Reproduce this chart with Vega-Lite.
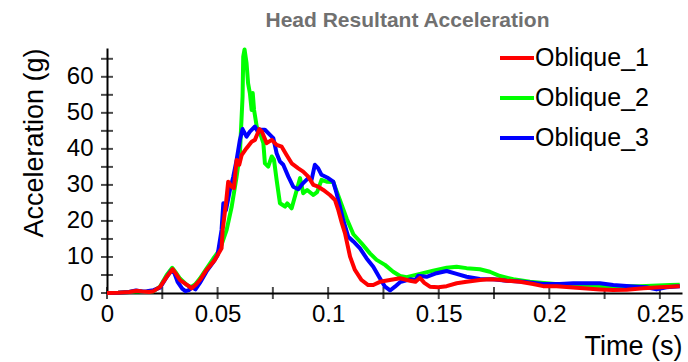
{
  "$schema": "https://vega.github.io/schema/vega-lite/v6.json",
  "autosize": "none",
  "width": 575,
  "height": 245,
  "padding": {"left": 107, "top": 48, "right": 6, "bottom": 69},
  "background": "white",
  "title": {"text": "Head Resultant Acceleration", "fontSize": 21, "fontWeight": "bold", "color": "#707070", "font": "Liberation Sans", "anchor": "middle", "dx": 13, "offset": 8},
  "config": {"view": {"stroke": null}, "font": "Liberation Sans"},
  "datasets": {
    "curves": [
      {"t":0,"g":0,"s":"Oblique_1"},{"t":0.005,"g":0.1,"s":"Oblique_1"},{"t":0.01,"g":0.3,"s":"Oblique_1"},{"t":0.0135,"g":0.6,"s":"Oblique_1"},{"t":0.016,"g":0.4,"s":"Oblique_1"},{"t":0.019,"g":0.3,"s":"Oblique_1"},{"t":0.021,"g":0.5,"s":"Oblique_1"},{"t":0.024,"g":1.7,"s":"Oblique_1"},{"t":0.027,"g":4.5,"s":"Oblique_1"},{"t":0.0297,"g":6.6,"s":"Oblique_1"},{"t":0.031,"g":5.5,"s":"Oblique_1"},{"t":0.033,"g":3.6,"s":"Oblique_1"},{"t":0.0363,"g":2.2,"s":"Oblique_1"},{"t":0.0383,"g":1.3,"s":"Oblique_1"},{"t":0.04,"g":2.2,"s":"Oblique_1"},{"t":0.042,"g":3.6,"s":"Oblique_1"},{"t":0.045,"g":6.4,"s":"Oblique_1"},{"t":0.0488,"g":9.2,"s":"Oblique_1"},{"t":0.0505,"g":11,"s":"Oblique_1"},{"t":0.0518,"g":12.4,"s":"Oblique_1"},{"t":0.0523,"g":17.5,"s":"Oblique_1"},{"t":0.0538,"g":24.9,"s":"Oblique_1"},{"t":0.0548,"g":30.9,"s":"Oblique_1"},{"t":0.0564,"g":29.5,"s":"Oblique_1"},{"t":0.0574,"g":29.1,"s":"Oblique_1"},{"t":0.0586,"g":36.9,"s":"Oblique_1"},{"t":0.0598,"g":35.6,"s":"Oblique_1"},{"t":0.0609,"g":38.3,"s":"Oblique_1"},{"t":0.0631,"g":40.2,"s":"Oblique_1"},{"t":0.0654,"g":42,"s":"Oblique_1"},{"t":0.0669,"g":42.5,"s":"Oblique_1"},{"t":0.0689,"g":45.5,"s":"Oblique_1"},{"t":0.07,"g":44.8,"s":"Oblique_1"},{"t":0.0722,"g":41.6,"s":"Oblique_1"},{"t":0.0745,"g":42.5,"s":"Oblique_1"},{"t":0.0767,"g":41.1,"s":"Oblique_1"},{"t":0.079,"g":40.6,"s":"Oblique_1"},{"t":0.0812,"g":38.3,"s":"Oblique_1"},{"t":0.0835,"g":36,"s":"Oblique_1"},{"t":0.0865,"g":34.6,"s":"Oblique_1"},{"t":0.0887,"g":33.7,"s":"Oblique_1"},{"t":0.091,"g":32.3,"s":"Oblique_1"},{"t":0.0933,"g":30,"s":"Oblique_1"},{"t":0.0955,"g":29.5,"s":"Oblique_1"},{"t":0.0978,"g":28.6,"s":"Oblique_1"},{"t":0.1008,"g":27.2,"s":"Oblique_1"},{"t":0.1031,"g":25.8,"s":"Oblique_1"},{"t":0.1046,"g":23,"s":"Oblique_1"},{"t":0.1062,"g":19.4,"s":"Oblique_1"},{"t":0.1076,"g":16.6,"s":"Oblique_1"},{"t":0.1099,"g":10.1,"s":"Oblique_1"},{"t":0.1121,"g":6.4,"s":"Oblique_1"},{"t":0.1151,"g":3.6,"s":"Oblique_1"},{"t":0.1181,"g":2.2,"s":"Oblique_1"},{"t":0.1204,"g":2.2,"s":"Oblique_1"},{"t":0.1234,"g":3.1,"s":"Oblique_1"},{"t":0.1279,"g":3.6,"s":"Oblique_1"},{"t":0.1325,"g":4.1,"s":"Oblique_1"},{"t":0.137,"g":3.4,"s":"Oblique_1"},{"t":0.1395,"g":3.1,"s":"Oblique_1"},{"t":0.1415,"g":4.2,"s":"Oblique_1"},{"t":0.1435,"g":2.8,"s":"Oblique_1"},{"t":0.146,"g":1.75,"s":"Oblique_1"},{"t":0.1498,"g":1.6,"s":"Oblique_1"},{"t":0.1536,"g":1.9,"s":"Oblique_1"},{"t":0.1581,"g":2.7,"s":"Oblique_1"},{"t":0.1626,"g":3.1,"s":"Oblique_1"},{"t":0.1686,"g":3.6,"s":"Oblique_1"},{"t":0.1731,"g":3.8,"s":"Oblique_1"},{"t":0.1777,"g":3.7,"s":"Oblique_1"},{"t":0.1807,"g":3.4,"s":"Oblique_1"},{"t":0.1867,"g":3.1,"s":"Oblique_1"},{"t":0.1927,"g":2.5,"s":"Oblique_1"},{"t":0.1972,"g":1.9,"s":"Oblique_1"},{"t":0.2033,"g":1.9,"s":"Oblique_1"},{"t":0.2093,"g":1.6,"s":"Oblique_1"},{"t":0.2153,"g":1.3,"s":"Oblique_1"},{"t":0.2229,"g":1,"s":"Oblique_1"},{"t":0.2289,"g":0.8,"s":"Oblique_1"},{"t":0.235,"g":0.9,"s":"Oblique_1"},{"t":0.2425,"g":1.3,"s":"Oblique_1"},{"t":0.25,"g":1.6,"s":"Oblique_1"},{"t":0.259,"g":1.9,"s":"Oblique_1"},

      {"t":0,"g":0,"s":"Oblique_2"},{"t":0.005,"g":0.1,"s":"Oblique_2"},{"t":0.01,"g":0.3,"s":"Oblique_2"},{"t":0.0135,"g":0.5,"s":"Oblique_2"},{"t":0.017,"g":0.3,"s":"Oblique_2"},{"t":0.021,"g":0.5,"s":"Oblique_2"},{"t":0.024,"g":1.8,"s":"Oblique_2"},{"t":0.027,"g":5,"s":"Oblique_2"},{"t":0.0295,"g":7,"s":"Oblique_2"},{"t":0.031,"g":5.8,"s":"Oblique_2"},{"t":0.033,"g":4,"s":"Oblique_2"},{"t":0.036,"g":2.3,"s":"Oblique_2"},{"t":0.038,"g":1.6,"s":"Oblique_2"},{"t":0.04,"g":2.5,"s":"Oblique_2"},{"t":0.042,"g":4,"s":"Oblique_2"},{"t":0.045,"g":6.8,"s":"Oblique_2"},{"t":0.048,"g":9.5,"s":"Oblique_2"},{"t":0.051,"g":12,"s":"Oblique_2"},{"t":0.0541,"g":17.5,"s":"Oblique_2"},{"t":0.0564,"g":24,"s":"Oblique_2"},{"t":0.0586,"g":32.3,"s":"Oblique_2"},{"t":0.0601,"g":38.8,"s":"Oblique_2"},{"t":0.0613,"g":54.5,"s":"Oblique_2"},{"t":0.0616,"g":65.6,"s":"Oblique_2"},{"t":0.0622,"g":67.6,"s":"Oblique_2"},{"t":0.0631,"g":63.8,"s":"Oblique_2"},{"t":0.0638,"g":58.2,"s":"Oblique_2"},{"t":0.0646,"g":55.5,"s":"Oblique_2"},{"t":0.0654,"g":50.8,"s":"Oblique_2"},{"t":0.0659,"g":55.5,"s":"Oblique_2"},{"t":0.0665,"g":50.8,"s":"Oblique_2"},{"t":0.0677,"g":46.2,"s":"Oblique_2"},{"t":0.0692,"g":44.4,"s":"Oblique_2"},{"t":0.0707,"g":41.6,"s":"Oblique_2"},{"t":0.0714,"g":36,"s":"Oblique_2"},{"t":0.0729,"g":35.1,"s":"Oblique_2"},{"t":0.0745,"g":37.9,"s":"Oblique_2"},{"t":0.0755,"g":37,"s":"Oblique_2"},{"t":0.0767,"g":31.4,"s":"Oblique_2"},{"t":0.0782,"g":24.9,"s":"Oblique_2"},{"t":0.0805,"g":24,"s":"Oblique_2"},{"t":0.0815,"g":24.9,"s":"Oblique_2"},{"t":0.0835,"g":23.5,"s":"Oblique_2"},{"t":0.0858,"g":28.6,"s":"Oblique_2"},{"t":0.0873,"g":31.9,"s":"Oblique_2"},{"t":0.0887,"g":27.7,"s":"Oblique_2"},{"t":0.0905,"g":28.6,"s":"Oblique_2"},{"t":0.0933,"g":27.2,"s":"Oblique_2"},{"t":0.095,"g":28,"s":"Oblique_2"},{"t":0.097,"g":31.4,"s":"Oblique_2"},{"t":0.0993,"g":30.9,"s":"Oblique_2"},{"t":0.1023,"g":30.8,"s":"Oblique_2"},{"t":0.1053,"g":25.8,"s":"Oblique_2"},{"t":0.1084,"g":20.6,"s":"Oblique_2"},{"t":0.1114,"g":16.3,"s":"Oblique_2"},{"t":0.1151,"g":13.8,"s":"Oblique_2"},{"t":0.1189,"g":11,"s":"Oblique_2"},{"t":0.1219,"g":9.2,"s":"Oblique_2"},{"t":0.1257,"g":7.8,"s":"Oblique_2"},{"t":0.1294,"g":5.9,"s":"Oblique_2"},{"t":0.1325,"g":4.7,"s":"Oblique_2"},{"t":0.1355,"g":4.4,"s":"Oblique_2"},{"t":0.1415,"g":5.3,"s":"Oblique_2"},{"t":0.1475,"g":6.2,"s":"Oblique_2"},{"t":0.1536,"g":7,"s":"Oblique_2"},{"t":0.1581,"g":7.3,"s":"Oblique_2"},{"t":0.1626,"g":6.9,"s":"Oblique_2"},{"t":0.1686,"g":6.6,"s":"Oblique_2"},{"t":0.1731,"g":5.9,"s":"Oblique_2"},{"t":0.1777,"g":4.7,"s":"Oblique_2"},{"t":0.1837,"g":3.8,"s":"Oblique_2"},{"t":0.1912,"g":3.1,"s":"Oblique_2"},{"t":0.1988,"g":2.7,"s":"Oblique_2"},{"t":0.2078,"g":2.2,"s":"Oblique_2"},{"t":0.2169,"g":1.9,"s":"Oblique_2"},{"t":0.2289,"g":1.9,"s":"Oblique_2"},{"t":0.241,"g":1.9,"s":"Oblique_2"},{"t":0.2545,"g":2.2,"s":"Oblique_2"},{"t":0.259,"g":2.3,"s":"Oblique_2"},

      {"t":0,"g":0,"s":"Oblique_3"},{"t":0.005,"g":0.1,"s":"Oblique_3"},{"t":0.01,"g":0.3,"s":"Oblique_3"},{"t":0.013,"g":0.7,"s":"Oblique_3"},{"t":0.016,"g":0.4,"s":"Oblique_3"},{"t":0.018,"g":0.5,"s":"Oblique_3"},{"t":0.021,"g":0.8,"s":"Oblique_3"},{"t":0.024,"g":1.5,"s":"Oblique_3"},{"t":0.0265,"g":4,"s":"Oblique_3"},{"t":0.029,"g":6.2,"s":"Oblique_3"},{"t":0.0305,"g":5.5,"s":"Oblique_3"},{"t":0.032,"g":3,"s":"Oblique_3"},{"t":0.034,"g":1.2,"s":"Oblique_3"},{"t":0.0355,"g":0.5,"s":"Oblique_3"},{"t":0.037,"g":0.8,"s":"Oblique_3"},{"t":0.0385,"g":1.6,"s":"Oblique_3"},{"t":0.04,"g":1,"s":"Oblique_3"},{"t":0.042,"g":2.8,"s":"Oblique_3"},{"t":0.045,"g":6,"s":"Oblique_3"},{"t":0.048,"g":8.5,"s":"Oblique_3"},{"t":0.05,"g":10.5,"s":"Oblique_3"},{"t":0.0518,"g":17.5,"s":"Oblique_3"},{"t":0.0526,"g":24.9,"s":"Oblique_3"},{"t":0.0538,"g":23,"s":"Oblique_3"},{"t":0.0556,"g":28.6,"s":"Oblique_3"},{"t":0.0571,"g":32.3,"s":"Oblique_3"},{"t":0.0586,"g":36.9,"s":"Oblique_3"},{"t":0.0601,"g":42.5,"s":"Oblique_3"},{"t":0.0613,"g":45.5,"s":"Oblique_3"},{"t":0.0631,"g":43.4,"s":"Oblique_3"},{"t":0.0646,"g":44.8,"s":"Oblique_3"},{"t":0.0669,"g":46.2,"s":"Oblique_3"},{"t":0.0684,"g":44.5,"s":"Oblique_3"},{"t":0.0692,"g":45.3,"s":"Oblique_3"},{"t":0.0714,"g":45.3,"s":"Oblique_3"},{"t":0.0737,"g":43.9,"s":"Oblique_3"},{"t":0.0752,"g":43,"s":"Oblique_3"},{"t":0.0767,"g":38.8,"s":"Oblique_3"},{"t":0.0782,"g":36.5,"s":"Oblique_3"},{"t":0.0797,"g":35.6,"s":"Oblique_3"},{"t":0.082,"g":32.3,"s":"Oblique_3"},{"t":0.0842,"g":29.5,"s":"Oblique_3"},{"t":0.0865,"g":28.8,"s":"Oblique_3"},{"t":0.0887,"g":30.5,"s":"Oblique_3"},{"t":0.091,"g":31.9,"s":"Oblique_3"},{"t":0.0925,"g":31.4,"s":"Oblique_3"},{"t":0.094,"g":35.6,"s":"Oblique_3"},{"t":0.0955,"g":34.6,"s":"Oblique_3"},{"t":0.097,"g":32.8,"s":"Oblique_3"},{"t":0.1,"g":31.9,"s":"Oblique_3"},{"t":0.1023,"g":30.9,"s":"Oblique_3"},{"t":0.1038,"g":27.7,"s":"Oblique_3"},{"t":0.1053,"g":24,"s":"Oblique_3"},{"t":0.1068,"g":20.3,"s":"Oblique_3"},{"t":0.1091,"g":15.6,"s":"Oblique_3"},{"t":0.1114,"g":14.3,"s":"Oblique_3"},{"t":0.1144,"g":12.4,"s":"Oblique_3"},{"t":0.1174,"g":9.6,"s":"Oblique_3"},{"t":0.1204,"g":7.3,"s":"Oblique_3"},{"t":0.1234,"g":4.1,"s":"Oblique_3"},{"t":0.1257,"g":1.75,"s":"Oblique_3"},{"t":0.128,"g":0.7,"s":"Oblique_3"},{"t":0.1302,"g":1.75,"s":"Oblique_3"},{"t":0.1325,"g":3,"s":"Oblique_3"},{"t":0.137,"g":3.8,"s":"Oblique_3"},{"t":0.1395,"g":3.6,"s":"Oblique_3"},{"t":0.1407,"g":4.8,"s":"Oblique_3"},{"t":0.1445,"g":4.5,"s":"Oblique_3"},{"t":0.149,"g":5.5,"s":"Oblique_3"},{"t":0.1536,"g":6.1,"s":"Oblique_3"},{"t":0.1581,"g":5.3,"s":"Oblique_3"},{"t":0.1626,"g":4.5,"s":"Oblique_3"},{"t":0.1686,"g":3.9,"s":"Oblique_3"},{"t":0.1746,"g":3.8,"s":"Oblique_3"},{"t":0.1807,"g":3.4,"s":"Oblique_3"},{"t":0.1882,"g":3.1,"s":"Oblique_3"},{"t":0.1972,"g":2.5,"s":"Oblique_3"},{"t":0.2048,"g":2.5,"s":"Oblique_3"},{"t":0.2108,"g":2.7,"s":"Oblique_3"},{"t":0.2229,"g":2.7,"s":"Oblique_3"},{"t":0.2289,"g":2.2,"s":"Oblique_3"},{"t":0.2364,"g":1.9,"s":"Oblique_3"},{"t":0.244,"g":1.6,"s":"Oblique_3"},{"t":0.2485,"g":1,"s":"Oblique_3"},{"t":0.253,"g":1.6,"s":"Oblique_3"},{"t":0.259,"g":1.9,"s":"Oblique_3"}
    ],
    "xticks": [{"v":0},{"v":0.025},{"v":0.05},{"v":0.075},{"v":0.1},{"v":0.125},{"v":0.15},{"v":0.175},{"v":0.2},{"v":0.225},{"v":0.25}],
    "yticks": [{"v":0},{"v":5},{"v":10},{"v":15},{"v":20},{"v":25},{"v":30},{"v":35},{"v":40},{"v":45},{"v":50},{"v":55},{"v":60},{"v":65}]
  },
  "encoding": {
    "x": {"type": "quantitative", "scale": {"domain": [0, 0.26], "nice": false, "zero": false},
      "axis": {"title": "Time (s)", "values": [0, 0.05, 0.1, 0.15, 0.2, 0.25], "format": "~g", "ticks": false, "tickSize": 0, "grid": false,
        "domainColor": "black", "domainWidth": 2, "labelFontSize": 24, "labelColor": "black", "labelPadding": 9, "labelFont": "Liberation Sans",
        "titleFontSize": 27, "titleFontWeight": "normal", "titleColor": "black", "titleAnchor": "end", "titlePadding": 7, "titleFont": "Liberation Sans", "labelFlush": false}},
    "y": {"type": "quantitative", "scale": {"domain": [0, 68], "nice": false},
      "axis": {"title": "Acceleration (g)", "values": [0, 10, 20, 30, 40, 50, 60], "ticks": false, "tickSize": 0, "grid": false,
        "domainColor": "black", "domainWidth": 2, "labelFontSize": 24, "labelColor": "black", "labelPadding": 14, "labelFont": "Liberation Sans",
        "titleFontSize": 27, "titleFontWeight": "normal", "titleColor": "black", "titleAnchor": "end", "titlePadding": 18, "titleFont": "Liberation Sans"}}
  },
  "layer": [
    {"data": {"name": "xticks"}, "mark": {"type": "tick", "orient": "vertical", "color": "black", "size": 12, "thickness": 2},
      "encoding": {"x": {"field": "v", "type": "quantitative"}, "y": {"datum": 0, "type": "quantitative"}}},
    {"data": {"name": "yticks"}, "mark": {"type": "tick", "orient": "horizontal", "color": "black", "size": 12, "thickness": 2},
      "encoding": {"y": {"field": "v", "type": "quantitative"}, "x": {"datum": 0, "type": "quantitative"}}},
    {"data": {"name": "curves"}, "transform": [{"filter": "datum.s == 'Oblique_2'"}],
      "mark": {"type": "line", "strokeWidth": 4, "strokeJoin": "round"},
      "encoding": {"x": {"field": "t", "type": "quantitative"}, "y": {"field": "g", "type": "quantitative"},
        "color": {"field": "s", "type": "nominal", "scale": {"domain": ["Oblique_1", "Oblique_2", "Oblique_3"], "range": ["#ff0000", "#00ff00", "#0000ff"]},
          "legend": {"title": null, "orient": "none", "legendX": 391, "legendY": -9, "symbolType": "stroke", "symbolSize": 1156, "symbolStrokeWidth": 4,
            "labelFontSize": 25, "labelColor": "black", "labelFont": "Liberation Sans", "labelOffset": -1, "rowPadding": 8}}}},
    {"data": {"name": "curves"}, "transform": [{"filter": "datum.s == 'Oblique_3'"}],
      "mark": {"type": "line", "strokeWidth": 4, "strokeJoin": "round"},
      "encoding": {"x": {"field": "t", "type": "quantitative"}, "y": {"field": "g", "type": "quantitative"},
        "color": {"field": "s", "type": "nominal"}}},
    {"data": {"name": "curves"}, "transform": [{"filter": "datum.s == 'Oblique_1'"}],
      "mark": {"type": "line", "strokeWidth": 4, "strokeJoin": "round"},
      "encoding": {"x": {"field": "t", "type": "quantitative"}, "y": {"field": "g", "type": "quantitative"},
        "color": {"field": "s", "type": "nominal"}}}
  ]
}
